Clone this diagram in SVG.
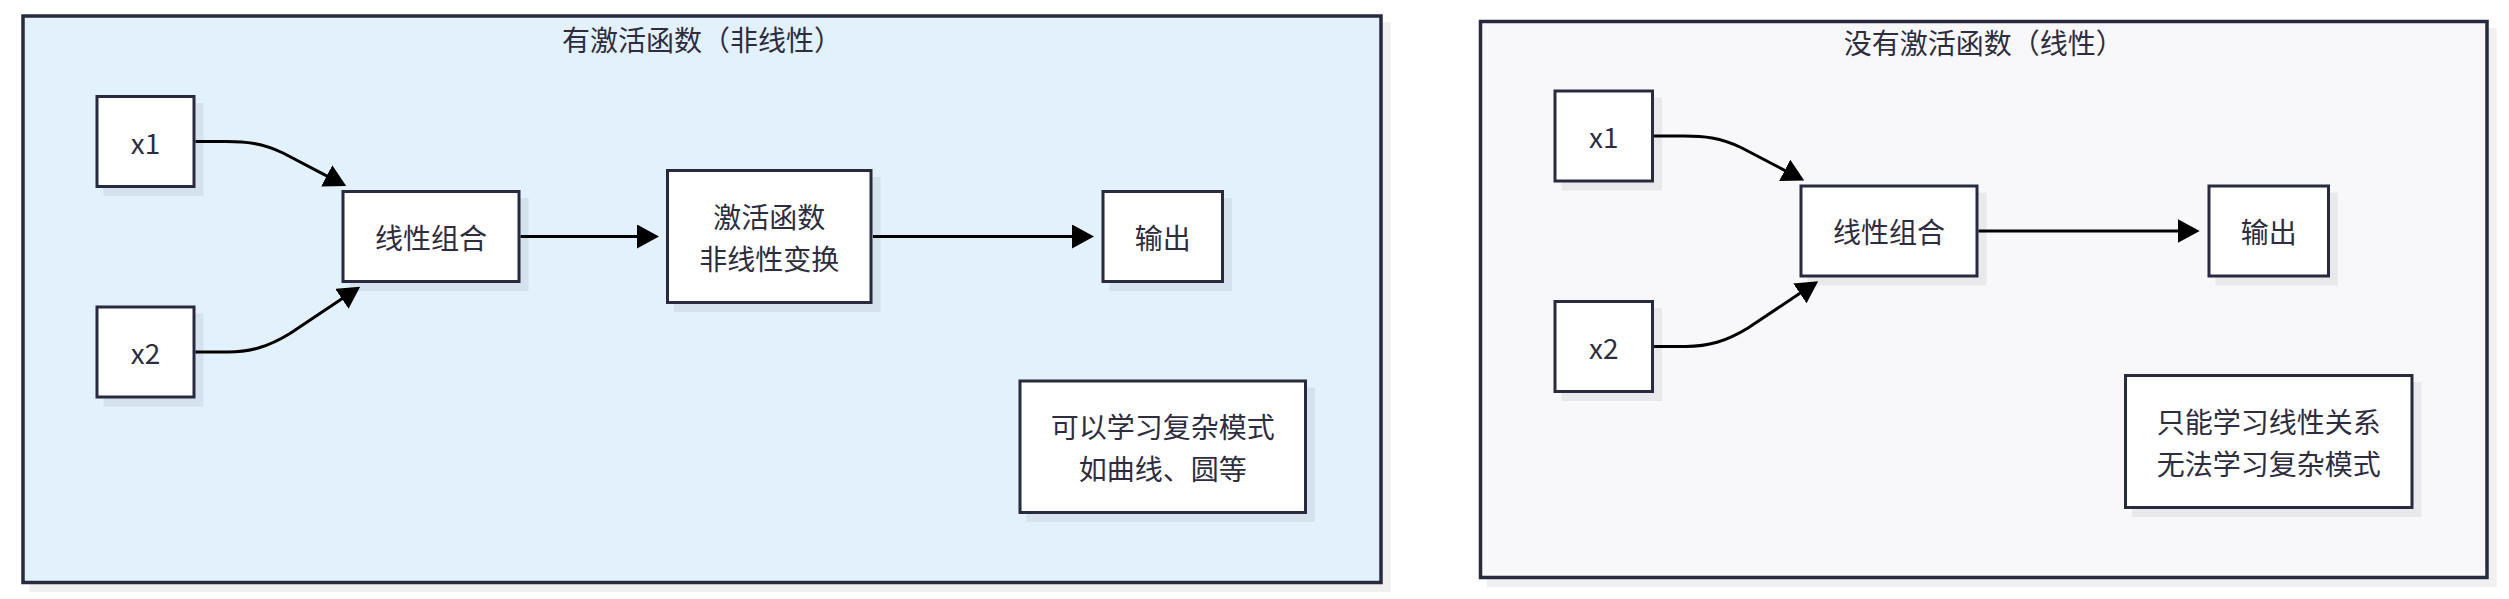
<svg xmlns="http://www.w3.org/2000/svg" width="2509" height="599" viewBox="0 0 2509 599">
  <style>
    .panel-a { fill: #e3f1fc; stroke: #282a3e; stroke-width: 3.5; }
    .panel-b { fill: #f8f8fa; stroke: #282a3e; stroke-width: 3.5; }
    .shadow { fill: #000000; fill-opacity: 0.06; stroke: none; }
    .box { fill: #ffffff; stroke: #282a3e; stroke-width: 3; }
    .label { font-family: "Noto Sans CJK SC", "Noto Sans", "Liberation Sans", sans-serif; font-size: 28px; fill: #2d2d3f; text-anchor: middle; dominant-baseline: central; }
    .edge { fill: none; stroke: #000000; stroke-width: 3; marker-end: url(#arrow); }
  </style>
  <defs>
    <marker id="arrow" markerUnits="userSpaceOnUse" markerWidth="22" markerHeight="24" viewBox="0 0 22 24" refX="1" refY="12" orient="auto">
      <path d="M0,0 L22,12 L0,24 Z" fill="#000000"/>
    </marker>
  </defs>

  <!-- Left panel: with activation function -->
  <g id="panel-nonlinear">
    <rect class="shadow" x="29.25" y="22.25" width="1361.5" height="570"/>
    <rect class="panel-a" x="23" y="16" width="1358" height="566.5"/>
    <text class="label" x="702" y="38.5">有激活函数（非线性）</text>
  </g>

  <!-- Right panel: without activation function -->
  <g id="panel-linear">
    <rect class="shadow" x="1486.75" y="27.75" width="1010" height="559.5"/>
    <rect class="panel-b" x="1480.5" y="21.5" width="1006.5" height="556"/>
    <text class="label" x="1983.75" y="42">没有激活函数（线性）</text>
  </g>

  <!-- Left panel nodes -->
  <g id="a-x1">
    <rect class="shadow" x="103.5" y="103" width="100" height="93"/>
    <rect class="box" x="97" y="96.5" width="97" height="90"/>
    <text class="label" x="145.5" y="141.5">x1</text>
  </g>
  <g id="a-x2">
    <rect class="shadow" x="103.5" y="313.5" width="100" height="93"/>
    <rect class="box" x="97" y="307" width="97" height="90"/>
    <text class="label" x="145.5" y="352">x2</text>
  </g>
  <g id="a-linear">
    <rect class="shadow" x="349.5" y="198" width="179" height="93"/>
    <rect class="box" x="343" y="191.5" width="176" height="90"/>
    <text class="label" x="431" y="236.5">线性组合</text>
  </g>
  <g id="a-activation">
    <rect class="shadow" x="674" y="177" width="206.5" height="135"/>
    <rect class="box" x="667.5" y="170.5" width="203.5" height="132"/>
    <text class="label" x="769.25" y="215.5">激活函数</text>
    <text class="label" x="769.25" y="257.5">非线性变换</text>
  </g>
  <g id="a-output">
    <rect class="shadow" x="1109.5" y="198" width="122.5" height="93"/>
    <rect class="box" x="1103" y="191.5" width="119.5" height="90"/>
    <text class="label" x="1162.75" y="236.5">输出</text>
  </g>
  <g id="a-note">
    <rect class="shadow" x="1026.5" y="387.5" width="288.5" height="134.5"/>
    <rect class="box" x="1020" y="381" width="285.5" height="131.5"/>
    <text class="label" x="1162.75" y="425.75">可以学习复杂模式</text>
    <text class="label" x="1162.75" y="467.75">如曲线、圆等</text>
  </g>

  <!-- Right panel nodes -->
  <g id="b-x1">
    <rect class="shadow" x="1561.5" y="97.5" width="100.5" height="93"/>
    <rect class="box" x="1555" y="91" width="97.5" height="90"/>
    <text class="label" x="1603.75" y="136">x1</text>
  </g>
  <g id="b-x2">
    <rect class="shadow" x="1561.5" y="308" width="100.5" height="93"/>
    <rect class="box" x="1555" y="301.5" width="97.5" height="90"/>
    <text class="label" x="1603.75" y="346.5">x2</text>
  </g>
  <g id="b-linear">
    <rect class="shadow" x="1807.5" y="192.5" width="179" height="93"/>
    <rect class="box" x="1801" y="186" width="176" height="90"/>
    <text class="label" x="1889" y="231">线性组合</text>
  </g>
  <g id="b-output">
    <rect class="shadow" x="2215.5" y="192.5" width="122.5" height="93"/>
    <rect class="box" x="2209" y="186" width="119.5" height="90"/>
    <text class="label" x="2268.75" y="231">输出</text>
  </g>
  <g id="b-note">
    <rect class="shadow" x="2132" y="382" width="289.5" height="135"/>
    <rect class="box" x="2125.5" y="375.5" width="286.5" height="132"/>
    <text class="label" x="2268.75" y="420.5">只能学习线性关系</text>
    <text class="label" x="2268.75" y="462.5">无法学习复杂模式</text>
  </g>

  <!-- Connectors -->
  <g id="connectors">
    <path class="edge" d="M195.5,141.5 L226,141.5 C246,141.5 262,143 283,153 L327.6,176.3"/>
    <path class="edge" d="M195.5,352 L228,352 C250,352 268,347 290,333.5 L342.7,298.3"/>
    <path class="edge" d="M520.5,236.5 L638,236.5"/>
    <path class="edge" d="M873,236.5 L1073,236.5"/>
    <path class="edge" d="M1654,136 L1684,136 C1704,136 1720,137.5 1741,147.5 L1785.6,170.8"/>
    <path class="edge" d="M1654,346.5 L1686,346.5 C1708,346.5 1726,341.5 1748,328 L1800.7,292.8"/>
    <path class="edge" d="M1978.5,231 L2178.7,231"/>
  </g>
</svg>
